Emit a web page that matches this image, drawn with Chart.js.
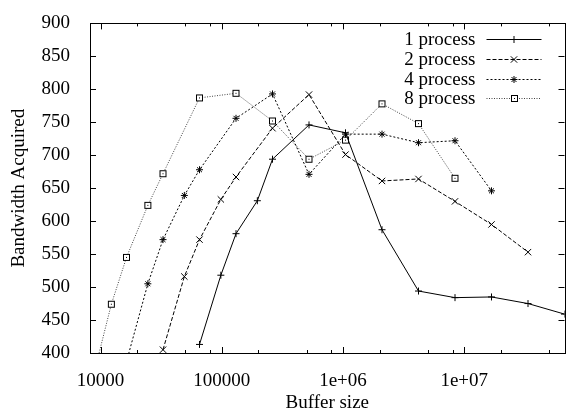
<!DOCTYPE html>
<html>
<head>
<meta charset="utf-8">
<script src="https://cdn.jsdelivr.net/npm/chart.js@4/dist/chart.umd.min.js"></script>
<style>
html,body{margin:0;padding:0;background:#fff;}
canvas{display:block;}
</style>
</head>
<body>
<canvas id="c" width="570" height="413"></canvas>
<script>
// ---- data ----
const seriesLabels = ['1 process', '2 process', '4 process', '8 process'];

const process1X = [65536, 98304, 131072, 196608, 262144, 524288, 1048576, 2097152, 4194304, 8388608, 16777216, 33554432, 67108864];
const process1Y = [413, 518, 581, 631, 694, 746, 734, 587, 494, 484, 485, 475, 459];

const process2X = [32768, 49152, 65536, 98304, 131072, 262144, 524288, 1048576, 2097152, 4194304, 8388608, 16777216, 33554432];
const process2Y = [405, 516, 572, 633, 667, 741, 792, 701, 661, 664, 630, 595, 553];

const process4X = [16384, 24576, 32768, 49152, 65536, 131072, 262144, 524288, 1048576, 2097152, 4194304, 8388608, 16777216];
const process4Y = [387, 505, 572, 639, 678, 756, 793, 671, 732, 732, 719, 722, 646];

const process8X = [8192, 12288, 16384, 24576, 32768, 65536, 131072, 262144, 524288, 1048576, 2097152, 4194304, 8388608];
const process8Y = [345, 474, 545, 624, 672, 787, 794, 752, 694, 723, 778, 748, 665];

const xMajorTicks = [10000, 100000, 1000000, 10000000];
const xTickLabels = ['10000', '100000', '1e+06', '1e+07'];
const xMinorTicks = [20000, 50000, 80000, 200000, 500000, 800000, 2000000, 5000000, 8000000, 20000000, 50000000];
const yTicks = [400, 450, 500, 550, 600, 650, 700, 750, 800, 850, 900];

const xTitle = 'Buffer size';
const yTitle = 'Bandwidth Acquired';

// ---- helpers ----
const FONT = "'Liberation Serif', 'Times New Roman', serif";
function pts(xs, ys) { return xs.map((x, i) => ({x: x, y: ys[i]})); }

function makeSquareMarker() {
  const c = document.createElement('canvas');
  c.width = 9; c.height = 9;
  const g = c.getContext('2d');
  g.fillStyle = '#fff';
  g.fillRect(1.5, 1.5, 6, 6);
  g.strokeStyle = '#000';
  g.lineWidth = 1;
  g.strokeRect(1.5, 1.5, 6, 6);
  g.fillStyle = '#000';
  g.fillRect(4, 4, 1, 1);
  return c;
}
const squareMarker = makeSquareMarker();

const styles = [
  {dash: [], color: '#000', point: 'cross', r: 3.5},
  {dash: [4, 2], color: '#000', point: 'crossRot', r: 4.5},
  {dash: [2, 2], color: '#000', point: 'star', r: 3.5},
  {dash: [1, 1.5], color: '#444', point: squareMarker, r: 4}
];

function drawMarker(ctx, style, x, y, r) {
  ctx.save();
  ctx.setLineDash([]);
  ctx.strokeStyle = '#000';
  ctx.lineWidth = 1;
  if (style instanceof HTMLCanvasElement) {
    ctx.drawImage(style, Math.round(x - style.width / 2), Math.round(y - style.height / 2));
    ctx.restore();
    return;
  }
  ctx.beginPath();
  const d = r * Math.SQRT1_2;
  if (style === 'cross' || style === 'star') {
    ctx.moveTo(x - r, y); ctx.lineTo(x + r, y);
    ctx.moveTo(x, y - r); ctx.lineTo(x, y + r);
  }
  if (style === 'crossRot' || style === 'star') {
    ctx.moveTo(x - d, y - d); ctx.lineTo(x + d, y + d);
    ctx.moveTo(x - d, y + d); ctx.lineTo(x + d, y - d);
  }
  ctx.stroke();
  ctx.restore();
}

const frameAndLegend = {
  id: 'frameAndLegend',
  afterDraw(chart) {
    const ctx = chart.ctx;
    const a = chart.chartArea;
    const xs = chart.scales.x, ys = chart.scales.y;
    ctx.save();
    ctx.strokeStyle = '#000';
    ctx.lineWidth = 1;
    ctx.setLineDash([]);
    // inward tick marks (mirrored)
    ctx.beginPath();
    xs.ticks.forEach(t => {
      const px = Math.round(xs.getPixelForValue(t.value)) + 0.5;
      const len = xMajorTicks.includes(t.value) ? 6 : 3;
      ctx.moveTo(px, a.bottom); ctx.lineTo(px, a.bottom - len);
      ctx.moveTo(px, a.top); ctx.lineTo(px, a.top + len);
    });
    ys.ticks.forEach(t => {
      const py = Math.round(ys.getPixelForValue(t.value)) + 0.5;
      ctx.moveTo(a.left, py); ctx.lineTo(a.left + 6, py);
      ctx.moveTo(a.right, py); ctx.lineTo(a.right - 6, py);
    });
    ctx.stroke();
    // frame
    ctx.strokeRect(Math.round(a.left) + 0.5, Math.round(a.top) + 0.5,
                   Math.round(a.right - a.left), Math.round(a.bottom - a.top));
    // legend
    ctx.font = '19px ' + FONT;
    ctx.fillStyle = '#000';
    ctx.textAlign = 'right';
    ctx.textBaseline = 'middle';
    chart.data.datasets.forEach((ds, i) => {
      const y = a.top + 16 + i * 19.6;
      ctx.fillText(ds.label, a.right - 89, y + 1);
      const st = styles[i];
      ctx.save();
      ctx.strokeStyle = st.color;
      ctx.setLineDash(st.dash);
      ctx.beginPath();
      ctx.moveTo(a.right - 78, Math.round(y) + 0.5);
      ctx.lineTo(a.right - 23, Math.round(y) + 0.5);
      ctx.stroke();
      ctx.restore();
      drawMarker(ctx, st.point, a.right - 50.5, Math.round(y) + 0.5, st.r);
    });
    ctx.restore();
  }
};

const allX = [process1X, process2X, process4X, process8X];
const allY = [process1Y, process2Y, process4Y, process8Y];

const datasets = seriesLabels.map((lab, i) => ({
  label: lab,
  data: pts(allX[i], allY[i]),
  borderColor: styles[i].color,
  borderWidth: 1,
  borderDash: styles[i].dash,
  pointStyle: styles[i].point,
  pointRadius: styles[i].r,
  pointBorderColor: '#000',
  pointBackgroundColor: '#fff',
  pointBorderWidth: 1,
  pointHoverRadius: styles[i].r,
  tension: 0,
  fill: false,
  clip: 0
}));

new Chart(document.getElementById('c'), {
  type: 'line',
  data: {datasets: datasets},
  options: {
    responsive: false,
    animation: false,
    devicePixelRatio: 1,
    layout: {padding: {top: 17, right: 4, left: 0, bottom: 0}},
    plugins: {legend: {display: false}, tooltip: {enabled: false}},
    scales: {
      x: {
        type: 'logarithmic',
        position: 'bottom',
        min: 8192,
        max: 67108864,
        afterBuildTicks(scale) {
          scale.ticks = xMajorTicks.concat(xMinorTicks).sort((p, q) => p - q).map(v => ({value: v}));
        },
        afterFit(scale) { scale.height = 60; },
        grid: {display: false},
        border: {display: false},
        ticks: {
          autoSkip: false,
          maxRotation: 0,
          padding: 9,
          color: '#000',
          font: {family: FONT, size: 19},
          callback(v) {
            const k = xMajorTicks.indexOf(v);
            return k >= 0 ? xTickLabels[k] : '';
          }
        },
        title: {
          display: true,
          text: xTitle,
          color: '#000',
          font: {family: FONT, size: 19, lineHeight: 1},
          padding: {top: 0, bottom: 0}
        }
      },
      y: {
        type: 'linear',
        min: 400,
        max: 900,
        afterBuildTicks(scale) { scale.ticks = yTicks.map(v => ({value: v})); },
        afterFit(scale) { scale.width = 90; },
        grid: {display: false},
        border: {display: false},
        ticks: {
          padding: 12,
          color: '#000',
          font: {family: FONT, size: 19}
        },
        title: {
          display: true,
          text: yTitle,
          color: '#000',
          font: {family: FONT, size: 19, lineHeight: 1},
          padding: {top: 10, bottom: 0}
        }
      }
    }
  },
  plugins: [frameAndLegend]
});
</script>
</body>
</html>
